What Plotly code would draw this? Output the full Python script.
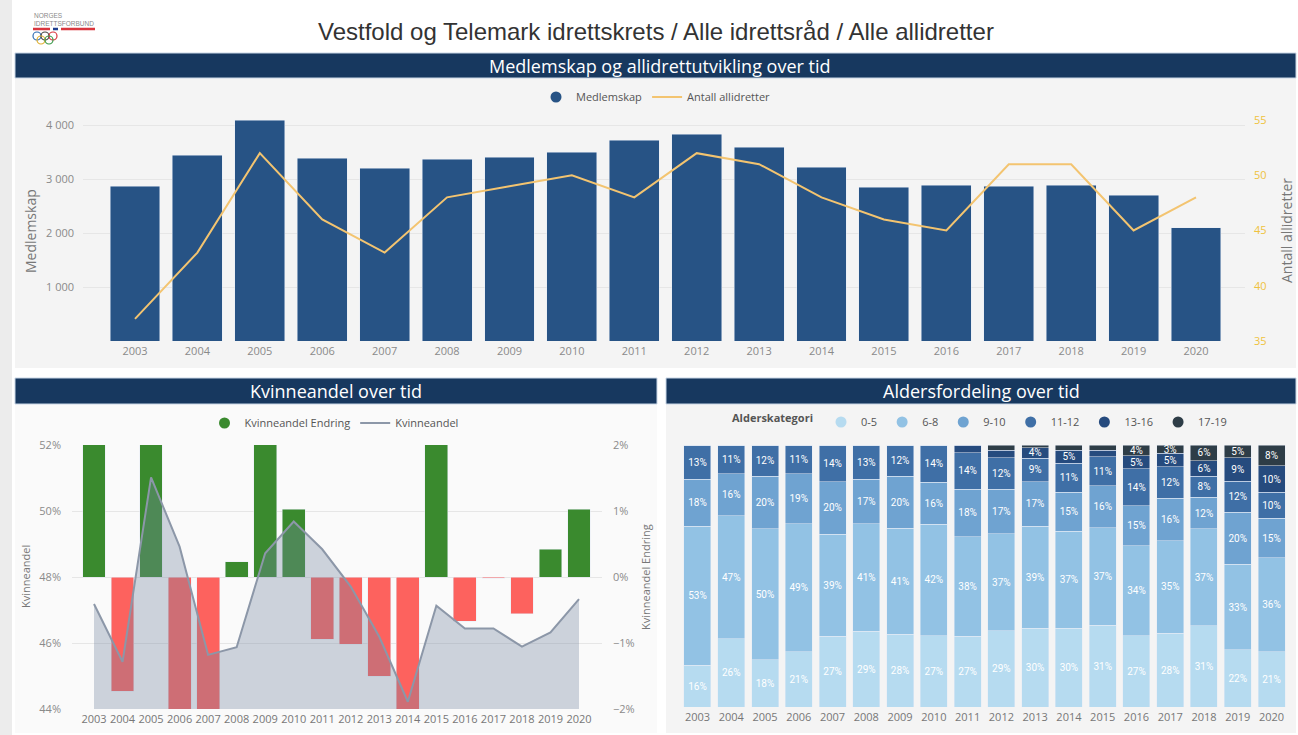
import plotly.graph_objects as go

W, H = 1298, 735


def px(x):
    return x / W


def py(y):
    return 1 - y / H


# ---------------- data ----------------
years = [str(y) for y in range(2003, 2021)]

medlemskap = [2870, 3444, 4093, 3389, 3204, 3370, 3407, 3500, 3722,
              3833, 3593, 3222, 2852, 2889, 2870, 2889, 2704, 2093]
antall_allidretter = [37, 43, 52, 46, 43, 48, 49, 50, 48,
                      52, 51, 48, 46, 45, 51, 51, 45, 48]

kvinneandel = [47.18, 45.43, 51.02, 48.92, 45.64, 45.87, 48.72, 49.68, 48.84,
               47.71, 46.19, 44.22, 47.13, 46.44, 46.44, 45.89, 46.32, 47.33]
kvinneandel_endring = [2.6, -1.73, 5.59, -2.10, -3.28, 0.23, 2.85, 1.03, -0.94,
                       -1.02, -1.50, -2.05, 2.91, -0.67, -0.02, -0.56, 0.42, 1.03]

age_categories = ["0-5", "6-8", "9-10", "11-12", "13-16", "17-19"]
age_0_5 = [16, 26, 18, 21, 27, 29, 28, 27, 27, 29, 30, 30, 31, 27, 28, 31, 22, 21]
age_6_8 = [53, 47, 50, 49, 39, 41, 41, 42, 38, 37, 39, 37, 37, 34, 35, 37, 33, 36]
age_9_10 = [18, 16, 20, 19, 20, 17, 20, 16, 18, 17, 17, 15, 16, 15, 16, 12, 20, 15]
age_11_12 = [13, 11, 12, 11, 14, 13, 12, 14, 14, 12, 9, 11, 11, 14, 12, 8, 12, 10]
age_13_16 = [0, 0, 0, 0, 0, 0, 0, 0, 2.9, 2.8, 4, 5, 2.5, 5, 5, 6, 9, 10]
age_17_19 = [0, 0, 0, 0, 0, 0, 0, 0, 0, 2.0, 1, 2, 2.0, 4, 3.2, 6, 5, 8]
age_series = [age_0_5, age_6_8, age_9_10, age_11_12, age_13_16, age_17_19]
age_colors = ["#b6dbf0", "#92c2e4", "#6fa3d1", "#3f6fa6", "#264b7e", "#2e3d47"]

# ---------------- styles ----------------
FONT = "Open Sans"
NAVY = "#17385f"
BAR_BLUE = "#275385"
LINE_GOLD = "#f3c470"
GREEN = "#3a8a2e"
RED = "#fd625e"
GRID = "#e6e6e6"

fig = go.Figure()

# ---- Top chart: Medlemskap og allidrettutvikling ----
fig.add_trace(go.Scatter(x=[None], y=[None], mode="markers", name="Medlemskap",
                         marker=dict(symbol="circle", size=11, color=BAR_BLUE),
                         xaxis="x", yaxis="y", legend="legend", hoverinfo="skip"))
fig.add_trace(go.Bar(x=years, y=medlemskap, name="Medlemskap", marker_color=BAR_BLUE,
                     xaxis="x", yaxis="y", showlegend=False))
fig.add_trace(go.Scatter(x=years, y=antall_allidretter, mode="lines", name="Antall allidretter",
                         line=dict(color=LINE_GOLD, width=2), xaxis="x", yaxis="y2",
                         legend="legend"))

# ---- Bottom-left: Kvinneandel over tid ----
endring_colors = [GREEN if v >= 0 else RED for v in kvinneandel_endring]
fig.add_trace(go.Scatter(x=[None], y=[None], mode="markers", name="Kvinneandel Endring",
                         marker=dict(symbol="circle", size=11, color=GREEN),
                         xaxis="x2", yaxis="y3", legend="legend2", hoverinfo="skip"))
fig.add_trace(go.Scatter(x=[None], y=[None], mode="lines", name="Kvinneandel",
                         line=dict(color="#8c97a8", width=2),
                         xaxis="x2", yaxis="y3", legend="legend2", hoverinfo="skip"))
fig.add_trace(go.Bar(x=years, y=kvinneandel_endring, name="Kvinneandel Endring",
                     marker_color=endring_colors, xaxis="x2", yaxis="y3", showlegend=False))
fig.add_trace(go.Scatter(x=years, y=kvinneandel, mode="lines", name="Kvinneandel",
                         line=dict(color="#8c97a8", width=2), fill="tozeroy",
                         fillcolor="rgba(118,135,160,0.35)",
                         xaxis="x2", yaxis="y4", showlegend=False))

# ---- Bottom-right: Aldersfordeling over tid ----
totals = [sum(vals) for vals in zip(*age_series)]
for name, vals, col in zip(age_categories, age_series, age_colors):
    fig.add_trace(go.Scatter(x=[None], y=[None], mode="markers", name=name,
                             marker=dict(symbol="circle", size=11, color=col),
                             xaxis="x3", yaxis="y5", legend="legend3", hoverinfo="skip"))
for name, vals, col in zip(age_categories, age_series, age_colors):
    share = [v / t * 100 for v, t in zip(vals, totals)]
    labels = [f"{round(v)}%" if v >= 3 else "" for v in vals]
    fig.add_trace(go.Bar(x=years, y=share, name=name, marker_color=col,
                         text=labels, texttemplate="%{text}", textposition="inside",
                         insidetextanchor="middle",
                         textfont=dict(color="white", size=10, family="Roboto"),
                         xaxis="x3", yaxis="y5", showlegend=False))

# ---------------- layout ----------------
tickfont = dict(family=FONT, size=11, color="#8a8a8a")

shapes = [
    # left grey strip
    dict(type="rect", xref="paper", yref="paper", x0=0, x1=px(12), y0=0, y1=1,
         fillcolor="#ececec", line_width=0, layer="below"),
    # panels
    dict(type="rect", xref="paper", yref="paper", x0=px(15), x1=px(1296), y0=py(368), y1=py(78),
         fillcolor="#f4f4f4", line_width=0, layer="below"),
    dict(type="rect", xref="paper", yref="paper", x0=px(15), x1=px(657), y0=py(733), y1=py(404),
         fillcolor="#fafafa", line_width=0, layer="below"),
    dict(type="rect", xref="paper", yref="paper", x0=px(666), x1=px(1296), y0=py(733), y1=py(404),
         fillcolor="#f4f4f4", line_width=0, layer="below"),
    # header bars
    dict(type="rect", xref="paper", yref="paper", x0=px(15), x1=px(1296), y0=py(78), y1=py(53),
         fillcolor=NAVY, line=dict(color="#c9d6e6", width=1), layer="below"),
    dict(type="rect", xref="paper", yref="paper", x0=px(15), x1=px(657), y0=py(404), y1=py(378),
         fillcolor=NAVY, line=dict(color="#c9d6e6", width=1), layer="below"),
    dict(type="rect", xref="paper", yref="paper", x0=px(666), x1=px(1296), y0=py(404), y1=py(378),
         fillcolor=NAVY, line=dict(color="#c9d6e6", width=1), layer="below"),
    # logo stripes
    dict(type="line", xref="paper", yref="paper", x0=px(33), x1=px(50), y0=py(29), y1=py(29),
         line=dict(color="#d9363e", width=2.5)),
    dict(type="line", xref="paper", yref="paper", x0=px(53), x1=px(58), y0=py(29), y1=py(29),
         line=dict(color="#1f3f8f", width=2.5)),
    dict(type="line", xref="paper", yref="paper", x0=px(61), x1=px(95), y0=py(29), y1=py(29),
         line=dict(color="#d9363e", width=2.5)),
]
# olympic rings of logo
for cx, cy, col in [(37, 36, "#2f6db5"), (45, 36, "#444444"), (53, 36, "#d9363e"),
                    (41, 40, "#e0b030"), (49, 40, "#3a9a4a")]:
    shapes.append(dict(type="circle", xref="paper", yref="paper",
                       x0=px(cx - 4), x1=px(cx + 4), y0=py(cy + 4), y1=py(cy - 4),
                       line=dict(color=col, width=1.2)))


def ann(text, x, y, size, color, angle=0, family=FONT, xanchor="center", align="center"):
    return dict(text=text, x=px(x), y=py(y), xref="paper", yref="paper", showarrow=False,
                xanchor=xanchor, yanchor="middle", textangle=angle, align=align,
                font=dict(family=family, size=size, color=color))


annotations = [
    ann("Vestfold og Telemark idrettskrets / Alle idrettsråd / Alle allidretter",
        656, 31, 24, "#333333", family="Liberation Sans"),
    ann("NORGES<br>IDRETTSFORBUND", 32, 19, 6.5, "#8a8a8a", family="Liberation Sans",
        xanchor="left", align="left"),
    ann("Medlemskap og allidrettutvikling over tid", 660, 66, 18, "white"),
    ann("Kvinneandel over tid", 336, 391, 18, "white"),
    ann("Aldersfordeling over tid", 981, 391, 18, "white"),
    ann("Medlemskap", 30, 231, 14, "#777777", angle=-90),
    ann("Antall allidretter", 1286, 231, 14, "#777777", angle=-90),
    ann("Kvinneandel", 25, 577, 11, "#777777", angle=-90),
    ann("Kvinneandel Endring", 645, 577, 11, "#777777", angle=-90),
]

fig.update_layout(
    width=W, height=H,
    margin=dict(l=0, r=0, t=0, b=0, autoexpand=False),
    paper_bgcolor="white",
    plot_bgcolor="rgba(0,0,0,0)",
    separators=", ",
    barmode="stack",
    bargap=0.2,
    uniformtext=dict(minsize=9.5, mode="show"),
    font=dict(family=FONT, size=11, color="#666666"),
    shapes=shapes,
    annotations=annotations,
    # top chart axes
    xaxis=dict(domain=[px(83), px(1245)], anchor="y", type="category",
               range=[-0.833, 17.785], showgrid=False, zeroline=False,
               tickfont=tickfont, ticks="", ticklabelstandoff=2),
    yaxis=dict(domain=[py(341), py(120)], anchor="x", range=[0, 4093],
               tickvals=[0, 1000, 2000, 3000, 4000], ticktext=["", "1 000", "2 000", "3 000", "4 000"],
               showgrid=True, gridcolor=GRID, zeroline=False, tickfont=tickfont,
               ticks="", ticklabelstandoff=8),
    yaxis2=dict(overlaying="y", side="right", anchor="x", range=[35, 55],
                dtick=5, showgrid=False, zeroline=False, ticks="", ticklabelstandoff=8,
                tickfont=dict(family=FONT, size=11, color="#efc23d")),
    # bottom-left axes
    xaxis2=dict(domain=[px(72), px(602)], anchor="y3", type="category",
                range=[-0.771, 17.806], showgrid=False, zeroline=False,
                tickfont=dict(family=FONT, size=11, color="#777777"), ticks="",
                ticklabelstandoff=2),
    yaxis3=dict(domain=[py(709), py(445)], anchor="x2", side="right", range=[-2, 2],
                dtick=1, ticksuffix="%", showgrid=True, gridcolor=GRID, zeroline=False,
                tickfont=tickfont, ticks="", ticklabelstandoff=10),
    yaxis4=dict(overlaying="y3", side="left", anchor="x2", range=[44, 52], dtick=2,
                ticksuffix="%", showgrid=False, zeroline=False, tickfont=tickfont,
                ticks="", ticklabelstandoff=10),
    # bottom-right axes
    xaxis3=dict(domain=[px(680.6), px(1288.4)], anchor="y5", type="category",
                range=[-0.5, 17.5], showgrid=False, zeroline=False,
                tickfont=dict(family=FONT, size=11, color="#777777"), ticks="",
                ticklabelstandoff=2),
    yaxis5=dict(domain=[py(707), py(445)], anchor="x3", range=[0, 100], visible=False),
    legend=dict(orientation="h", x=px(656), y=py(97), xanchor="center", yanchor="middle",
                bgcolor="rgba(0,0,0,0)", font=dict(family=FONT, size=11, color="#555555"),
                itemwidth=30, traceorder="normal"),
    legend2=dict(orientation="h", x=px(334), y=py(423), xanchor="center", yanchor="middle",
                 bgcolor="rgba(0,0,0,0)", font=dict(family=FONT, size=11, color="#555555"),
                 itemwidth=30, traceorder="normal"),
    legend3=dict(orientation="h", x=px(981), y=py(422), xanchor="center", yanchor="middle",
                 bgcolor="rgba(0,0,0,0)", font=dict(family=FONT, size=11, color="#555555"),
                 itemwidth=30, traceorder="normal",
                 title=dict(text="<b>Alderskategori</b>", side="left",
                            font=dict(family=FONT, size=11, color="#555555"))),
)

fig.write_html(
    "out.html",
    config={"displayModeBar": False},
    post_script=(
        "var d=document.getElementById('{plot_id}');"
        "d.style.position='fixed';d.style.top='0px';d.style.left='0px';"
        "document.documentElement.style.margin='0';document.documentElement.style.padding='0';"
        "document.body.style.margin='0';document.body.style.padding='0';"
        "document.body.style.overflow='hidden';document.documentElement.style.overflow='hidden';"
    ),
)
